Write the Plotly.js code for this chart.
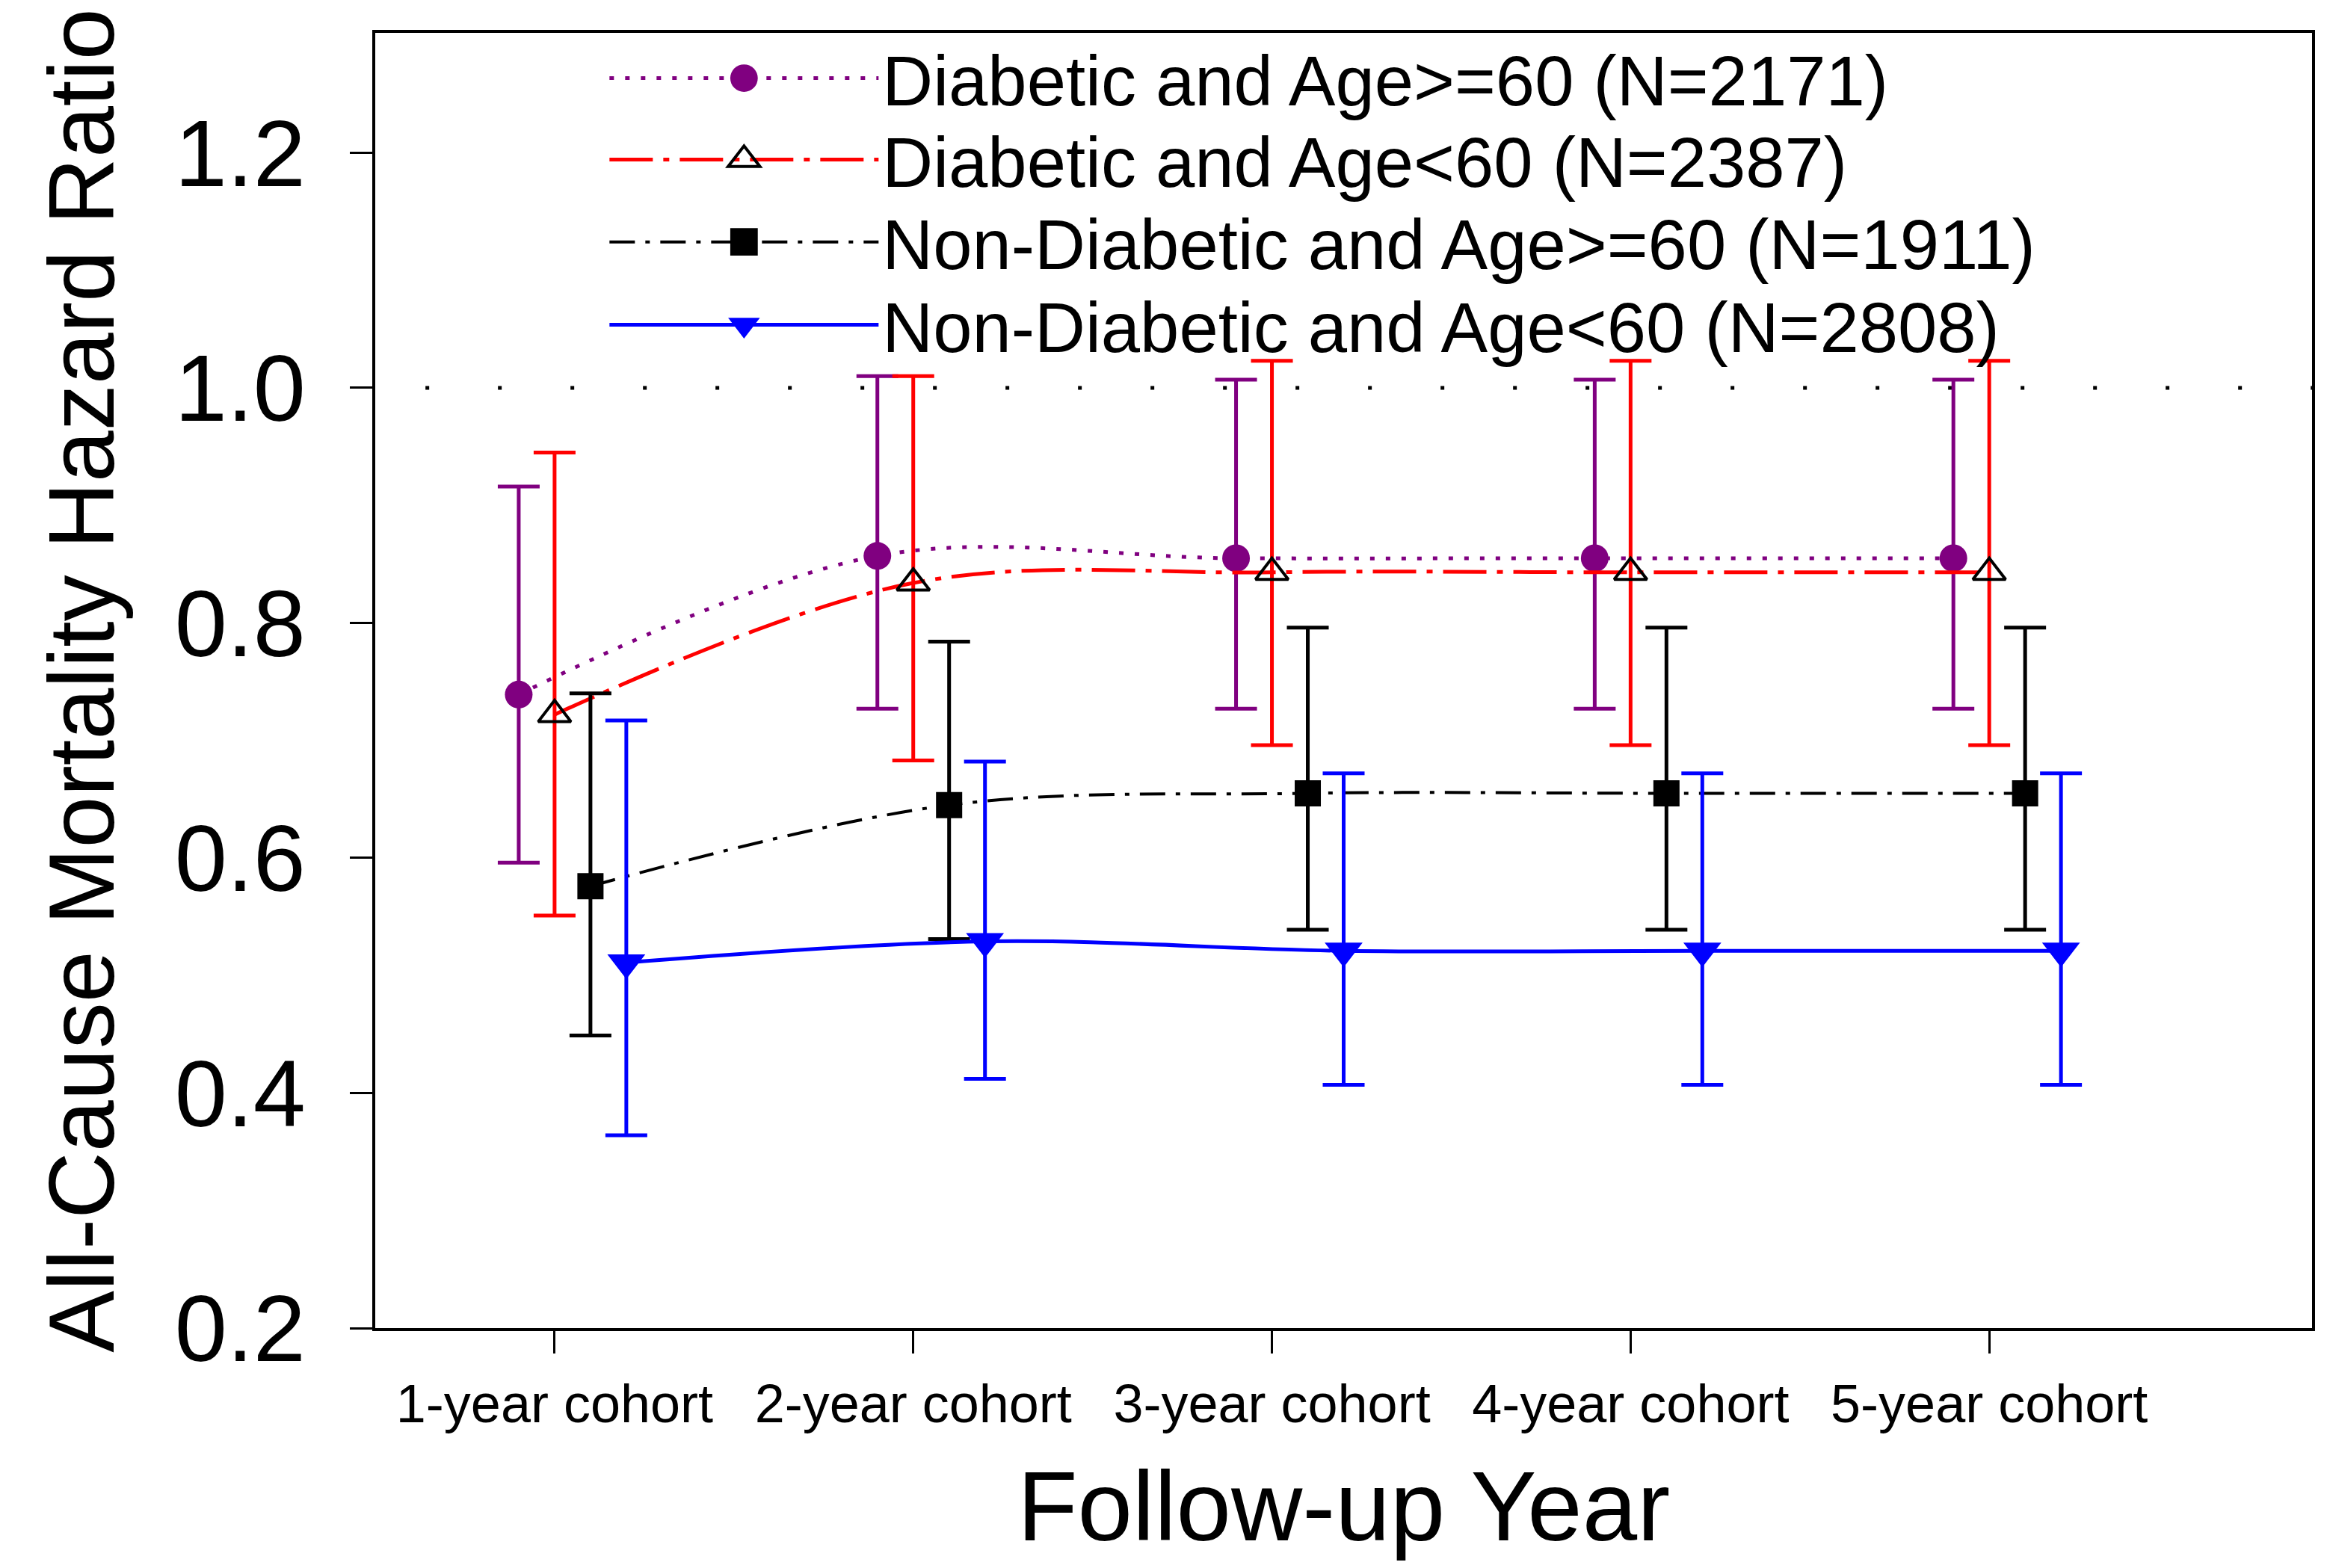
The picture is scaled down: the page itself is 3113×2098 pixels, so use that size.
<!DOCTYPE html>
<html>
<head>
<meta charset="utf-8">
<script src="https://cdn.plot.ly/plotly-3.0.1.min.js"></script>
<style>html,body{margin:0;padding:0;background:#fff;}#chart{width:3113px;height:2098px;}</style>
</head>
<body>
<div id="chart"></div>
<script>
// ---- data ----
var cohortLabels = ['1-year cohort', '2-year cohort', '3-year cohort', '4-year cohort', '5-year cohort'];
var cohortIndex = [1, 2, 3, 4, 5];

var seriesNames = [
  'Diabetic and Age>=60 (N=2171)',
  'Diabetic and Age<60 (N=2387)',
  'Non-Diabetic and Age>=60 (N=1911)',
  'Non-Diabetic and Age<60 (N=2808)'
];

var diabOldHR    = [0.739, 0.857, 0.855, 0.855, 0.855];
var diabOldLow   = [0.596, 0.727, 0.727, 0.727, 0.727];
var diabOldUp    = [0.916, 1.010, 1.007, 1.007, 1.007];

var diabYoungHR  = [0.722, 0.834, 0.843, 0.843, 0.843];
var diabYoungLow = [0.551, 0.683, 0.696, 0.696, 0.696];
var diabYoungUp  = [0.945, 1.010, 1.023, 1.023, 1.023];

var nonOldHR     = [0.576, 0.645, 0.655, 0.655, 0.655];
var nonOldLow    = [0.449, 0.531, 0.539, 0.539, 0.539];
var nonOldUp     = [0.740, 0.784, 0.796, 0.796, 0.796];

var nonYoungHR   = [0.511, 0.529, 0.521, 0.521, 0.521];
var nonYoungLow  = [0.364, 0.412, 0.407, 0.407, 0.407];
var nonYoungUp   = [0.717, 0.682, 0.672, 0.672, 0.672];

var referenceHR = 1.0;
var yTickVals = [0.2, 0.4, 0.6, 0.8, 1.0, 1.2];
var yTickText = ['0.2', '0.4', '0.6', '0.8', '1.0', '1.2'];

// ---- styling ----
var FONT = 'Liberation Sans, Arial, Helvetica, sans-serif';
var offsets = [-0.1, 0, 0.1, 0.2];
var legendIds = ['legend', 'legend2', 'legend3', 'legend4'];
var legendRowY = [0.9648, 0.9019, 0.8384, 0.7744];

function shifted(off) { return cohortIndex.map(function (v) { return v + off; }); }
function diff(a, b) { return a.map(function (v, i) { return v - b[i]; }); }

function makeTrace(i, hr, low, up, color, dash, width, marker) {
  return {
    type: 'scatter',
    mode: 'lines+markers',
    name: seriesNames[i],
    legend: legendIds[i],
    x: shifted(offsets[i]),
    y: hr,
    line: { color: color, dash: dash, width: width, shape: 'spline', smoothing: 1 },
    marker: marker,
    error_y: {
      type: 'data', symmetric: false,
      array: diff(up, hr), arrayminus: diff(hr, low),
      color: color, thickness: 5, width: 28
    },
    cliponaxis: false
  };
}

var traces = [
  makeTrace(0, diabOldHR, diabOldLow, diabOldUp, '#800080', '6px,15px', 5,
    { symbol: 'circle', size: 37, color: '#800080', line: { width: 0 } }),
  makeTrace(1, diabYoungHR, diabYoungLow, diabYoungUp, '#FF0000', '58px,14px,8px,14px', 5,
    { symbol: 'triangle-up-open', size: 38, color: '#000000', line: { width: 4, color: '#000000' } }),
  makeTrace(2, nonOldHR, nonOldLow, nonOldUp, '#000000', '34px,14px,6px,14px', 4,
    { symbol: 'square', size: 35, color: '#000000', line: { width: 0 } }),
  makeTrace(3, nonYoungHR, nonYoungLow, nonYoungUp, '#0000FF', 'solid', 5,
    { symbol: 'triangle-down', size: 44, color: '#0000FF', line: { width: 0 } })
];

function legendBox(i) {
  return {
    x: 0.119, y: legendRowY[i], xanchor: 'left', yanchor: 'middle',
    bgcolor: 'rgba(0,0,0,0)', borderwidth: 0,
    font: { family: FONT, size: 94, color: '#000000' },
    itemwidth: 360
  };
}

var layout = {
  width: 3113,
  height: 2098,
  margin: { l: 502, r: 20, t: 44, b: 321, pad: 0 },
  paper_bgcolor: '#ffffff',
  plot_bgcolor: '#ffffff',
  font: { family: FONT, color: '#000000' },
  showlegend: true,
  legend: legendBox(0),
  legend2: legendBox(1),
  legend3: legendBox(2),
  legend4: legendBox(3),
  xaxis: {
    range: [0.5, 5.9],
    tickmode: 'array', tickvals: cohortIndex, ticktext: cohortLabels,
    ticks: 'outside', ticklen: 30, tickwidth: 3, tickcolor: '#000',
    ticklabelstandoff: 6,
    tickfont: { family: FONT, size: 72, color: '#000' },
    showline: true, linecolor: '#000', linewidth: 4, mirror: true,
    showgrid: false, zeroline: false,
    title: { text: 'Follow-up Year', font: { family: FONT, size: 132, color: '#000' }, standoff: 52 }
  },
  yaxis: {
    range: [0.2, 1.302],
    tickmode: 'array', tickvals: yTickVals, ticktext: yTickText,
    ticks: 'outside', ticklen: 30, tickwidth: 3, tickcolor: '#000',
    ticklabelstandoff: 34,
    tickfont: { family: FONT, size: 126, color: '#000' },
    showline: true, linecolor: '#000', linewidth: 4, mirror: true,
    showgrid: false, zeroline: false,
    title: { text: 'All-Cause Mortality Hazard Ratio', font: { family: FONT, size: 124, color: '#000' }, standoff: 40 }
  },
  shapes: [{
    type: 'line', xref: 'x', yref: 'y', layer: 'below',
    x0: 0.64, x1: 5.9, y0: referenceHR, y1: referenceHR,
    line: { color: '#000000', width: 5, dash: '5px,92px' }
  }]
};

Plotly.newPlot('chart', traces, layout, { staticPlot: true, displayModeBar: false }).then(function () {
  // enlarge the legend symbols so they match the plotted marker size
  var pts = document.querySelectorAll('#chart .legendpoints path.scatterpts');
  pts.forEach(function (p) {
    var t = p.getAttribute('transform') || '';
    p.setAttribute('transform', t + ' scale(2.3)');
    p.setAttribute('vector-effect', 'non-scaling-stroke');
    p.style.vectorEffect = 'non-scaling-stroke';
  });
});
</script>
</body>
</html>
